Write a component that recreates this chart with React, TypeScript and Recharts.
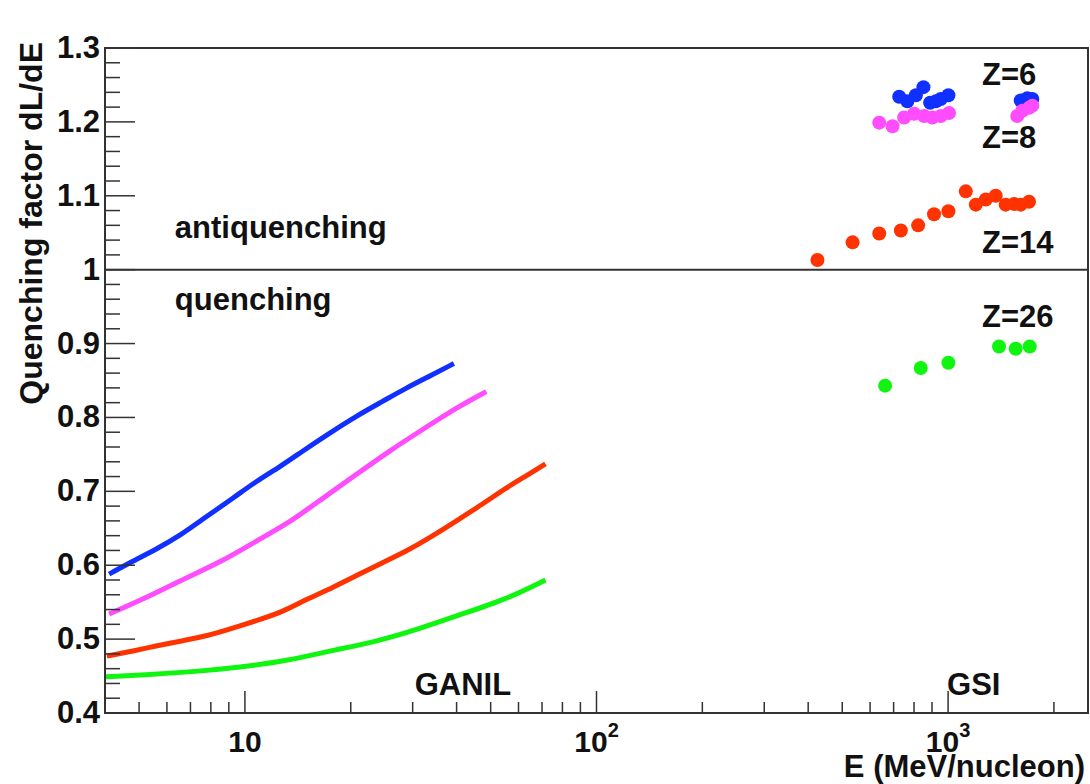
import React from 'react';
import {
  ComposedChart,
  Line,
  Scatter,
  XAxis,
  YAxis,
  ReferenceLine,
  ReferenceArea,
  ReferenceDot,
  Label,
} from 'recharts';

// ---------- GANIL curves (E in MeV/nucleon, quenching factor) ----------
const ganilZ6E = [4.11, 4.82, 5.61, 6.54, 7.78, 9.27, 10.79, 12.57, 14.64, 17.44, 20.76, 24.71, 28.8, 33.55, 39.3];
const ganilZ6Q = [0.588, 0.606, 0.622, 0.64, 0.666, 0.691, 0.714, 0.733, 0.755, 0.779, 0.802, 0.822, 0.84, 0.856, 0.873];

const ganilZ8E = [4.11, 5.03, 6.54, 8.68, 10.79, 13.42, 16.69, 20.76, 25.82, 32.1, 39.94, 48.6];
const ganilZ8Q = [0.534, 0.552, 0.579, 0.606, 0.633, 0.658, 0.691, 0.723, 0.755, 0.784, 0.813, 0.835];

const ganilZ14E = [4.05, 4.82, 5.61, 6.68, 7.78, 9.27, 10.79, 12.85, 14.97, 17.82, 20.76, 24.71, 28.8, 34.27, 39.94, 47.53, 55.41, 63.14, 71.6];
const ganilZ14Q = [0.477, 0.484, 0.491, 0.498, 0.504, 0.515, 0.525, 0.537, 0.554, 0.57, 0.586, 0.604, 0.619, 0.64, 0.66, 0.683, 0.705, 0.721, 0.737];

const ganilZ26E = [4.0, 5.37, 7.21, 9.68, 12.99, 17.44, 23.41, 31.42, 40.82, 55.51, 71.6];
const ganilZ26Q = [0.449, 0.452, 0.456, 0.462, 0.47, 0.484, 0.496, 0.514, 0.533, 0.554, 0.58];

// ---------- GSI points ----------
const gsiZ6E = [726, 766, 810, 851, 889, 923, 953, 1002, 1609, 1680, 1736];
const gsiZ6Q = [1.234, 1.228, 1.236, 1.247, 1.226, 1.228, 1.231, 1.236, 1.229, 1.232, 1.231];

const gsiZ8E = [637, 695, 750, 801, 855, 902, 953, 1006, 1573, 1626, 1699, 1736];
const gsiZ8Q = [1.199, 1.194, 1.206, 1.211, 1.208, 1.206, 1.208, 1.212, 1.208, 1.215, 1.219, 1.222];

const gsiZ14E = [425, 535, 637, 734, 822, 912, 1002, 1123, 1199, 1280, 1366, 1458, 1540, 1609, 1699];
const gsiZ14Q = [1.013, 1.037, 1.049, 1.053, 1.06, 1.075, 1.079, 1.106, 1.088, 1.095, 1.1, 1.088, 1.089, 1.088, 1.092];

const gsiZ26E = [662, 836, 1002, 1396, 1557, 1707];
const gsiZ26Q = [0.843, 0.867, 0.874, 0.896, 0.893, 0.896];

// ---------- axes ----------
const xDomain = [4, 2500];
const yDomain = [0.4, 1.3];
const xMajorTicks = [10, 100, 1000];
const xMajorLabels = ['10', '10^2', '10^3'];
const xMinorTicks = [5, 6, 7, 8, 9, 20, 30, 40, 50, 60, 70, 80, 90, 200, 300, 400, 500, 600, 700, 800, 900, 2000];
const yMajorTicks = [0.4, 0.5, 0.6, 0.7, 0.8, 0.9, 1.0, 1.1, 1.2, 1.3];
const yMajorLabels = ['0.4', '0.5', '0.6', '0.7', '0.8', '0.9', '1', '1.1', '1.2', '1.3'];
const yMinorStep = 0.02;

const xTitle = 'E (MeV/nucleon)';
const yTitle = 'Quenching factor dL/dE';

const annotations = [
  { text: 'antiquenching', x: 6.32, y: 1.043 },
  { text: 'quenching', x: 6.32, y: 0.945 },
  { text: 'GANIL', x: 30.4, y: 0.424 },
  { text: 'GSI', x: 993, y: 0.424 },
  { text: 'Z=6', x: 1249, y: 1.25 },
  { text: 'Z=8', x: 1249, y: 1.165 },
  { text: 'Z=14', x: 1249, y: 1.0226 },
  { text: 'Z=26', x: 1249, y: 0.9224 },
];

const COLORS = { z6: '#1030ff', z8: '#ff4cff', z14: '#ff3300', z26: '#10f510' };
const FONT = "'Liberation Sans', Arial, Helvetica, sans-serif";
const AXIS = '#333';

const toPts = (es: number[], qs: number[]) => es.map((e, i) => ({ x: e, y: qs[i] }));

const yMinorTicks: number[] = [];
for (let i = 0; i < yMajorTicks.length - 1; i++) {
  for (let k = 1; k < 5; k++) yMinorTicks.push(Math.round((yMajorTicks[i] + k * yMinorStep) * 1000) / 1000);
}
const allXTicks = [...xMinorTicks, ...xMajorTicks].sort((a, b) => a - b);
const allYTicks = [...yMinorTicks, ...yMajorTicks].sort((a, b) => a - b);

const XTick = (props: any) => {
  const { x, y, payload } = props;
  const v = payload.value;
  const mi = xMajorTicks.indexOf(v);
  const major = mi >= 0;
  const len = major ? 22 : 11;
  let labelEl = null;
  if (major) {
    const lab = xMajorLabels[mi];
    const parts = lab.split('^');
    labelEl = (
      <text x={x} y={y + 39} textAnchor="middle" fontFamily={FONT} fontWeight="bold" fontSize={30} fill="#111">
        {parts[0]}
        {parts[1] ? (
          <tspan dy={-15} fontSize={20}>
            {parts[1]}
          </tspan>
        ) : null}
      </text>
    );
  }
  return (
    <g>
      <line x1={x} x2={x} y1={y} y2={y - len} stroke={AXIS} strokeWidth={1.5} />
      {labelEl}
    </g>
  );
};

const YTick = (props: any) => {
  const { x, y, payload } = props;
  const v = payload.value;
  const mi = yMajorTicks.findIndex((t) => Math.abs(t - v) < 1e-6);
  const major = mi >= 0;
  return (
    <g>
      <line x1={x} x2={x + (major ? 30 : 15)} y1={y} y2={y} stroke={AXIS} strokeWidth={1.5} />
      {major ? (
        <text x={x - 5} y={y + 10} textAnchor="end" fontFamily={FONT} fontWeight="bold" fontSize={31} fill="#111">
          {yMajorLabels[mi]}
        </text>
      ) : null}
    </g>
  );
};

const YTitle = (props: any) => {
  const vb = props.viewBox || { x: 0, y: 48 };
  return (
    <text
      transform={`translate(${vb.x + 42}, ${vb.y - 6}) rotate(-90)`}
      textAnchor="end"
      fontFamily={FONT}
      fontWeight="bold"
      fontSize={32}
      fill="#111"
    >
      {yTitle}
    </text>
  );
};

const XTitle = (props: any) => {
  const vb = props.viewBox || { x: 105, y: 713, width: 983 };
  return (
    <text
      x={vb.x + vb.width - 3}
      y={vb.y + 64}
      textAnchor="end"
      fontFamily={FONT}
      fontWeight="bold"
      fontSize={31}
      fill="#111"
    >
      {xTitle}
    </text>
  );
};

const dotShape = (color: string) => (p: any) => <circle cx={p.cx} cy={p.cy} r={7} fill={color} />;

export default function App() {
  return (
    <div style={{ position: 'absolute', left: 0, top: 0, width: 1090, height: 784, background: '#fff' }}>
      <ComposedChart width={1090} height={784} margin={{ top: 48, right: 2, bottom: 0, left: 0 }}>
        <XAxis
          dataKey="x"
          type="number"
          scale="log"
          domain={xDomain}
          allowDataOverflow
          ticks={allXTicks}
          interval={0}
          tick={<XTick />}
          tickLine={false}
          tickSize={0}
          tickMargin={0}
          height={71}
          axisLine={{ stroke: AXIS, strokeWidth: 2 }}
        >
          <Label content={<XTitle />} />
        </XAxis>
        <YAxis
          dataKey="y"
          type="number"
          domain={yDomain}
          allowDataOverflow
          ticks={allYTicks}
          interval={0}
          tick={<YTick />}
          tickLine={false}
          tickSize={0}
          tickMargin={0}
          width={105}
          axisLine={{ stroke: AXIS, strokeWidth: 2 }}
        >
          <Label content={<YTitle />} />
        </YAxis>
        <ReferenceArea x1={xDomain[0]} x2={xDomain[1]} y1={yDomain[0]} y2={yDomain[1]} fill="none" stroke={AXIS} strokeWidth={2} ifOverflow="visible" />
        <ReferenceLine y={1} stroke={AXIS} strokeWidth={2} />

        <Line data={toPts(ganilZ6E, ganilZ6Q)} dataKey="y" type="basis" stroke={COLORS.z6} strokeWidth={5} dot={false} isAnimationActive={false} />
        <Line data={toPts(ganilZ8E, ganilZ8Q)} dataKey="y" type="basis" stroke={COLORS.z8} strokeWidth={5} dot={false} isAnimationActive={false} />
        <Line data={toPts(ganilZ14E, ganilZ14Q)} dataKey="y" type="basis" stroke={COLORS.z14} strokeWidth={5} dot={false} isAnimationActive={false} />
        <Line data={toPts(ganilZ26E, ganilZ26Q)} dataKey="y" type="basis" stroke={COLORS.z26} strokeWidth={5} dot={false} isAnimationActive={false} />

        <Scatter data={toPts(gsiZ26E, gsiZ26Q)} dataKey="y" shape={dotShape(COLORS.z26)} isAnimationActive={false} />
        <Scatter data={toPts(gsiZ14E, gsiZ14Q)} dataKey="y" shape={dotShape(COLORS.z14)} isAnimationActive={false} />
        <Scatter data={toPts(gsiZ6E, gsiZ6Q)} dataKey="y" shape={dotShape(COLORS.z6)} isAnimationActive={false} />
        <Scatter data={toPts(gsiZ8E, gsiZ8Q)} dataKey="y" shape={dotShape(COLORS.z8)} isAnimationActive={false} />

        {annotations.map((a) => (
          <ReferenceDot
            key={a.text}
            x={a.x}
            y={a.y}
            r={0}
            ifOverflow="visible"
            shape={(p: any) => (
              <text x={p.cx} y={p.cy} fontFamily={FONT} fontWeight="bold" fontSize={31} fill="#111">
                {a.text}
              </text>
            )}
          />
        ))}
      </ComposedChart>
    </div>
  );
}
